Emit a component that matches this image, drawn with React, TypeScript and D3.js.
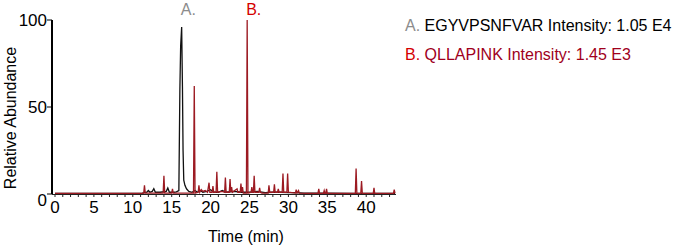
import React from "react";
import * as d3 from "d3";

const W = 696;
const H = 249;

// Trace A (EGYVPSNFVAR) — time (min), relative abundance (%)
const timesA = [0, 10.9, 11.2, 11.8, 12.0, 12.2, 12.5, 12.7, 12.9, 13.5, 14.3, 14.5, 14.7, 15.3, 15.6, 15.92, 16.05, 16.15, 16.28, 16.38, 16.46, 16.55, 16.7, 16.9, 17.2, 17.6, 18.0, 18.3, 18.7, 19.0, 19.5, 20.0, 20.4, 21.0, 21.5, 22.0, 23.0, 24.0, 25.0, 26.0, 27.0, 28.0, 29.0, 30.0, 31.0, 32.0, 35.0, 38.0, 43.7];
const valuesA = [0.3, 0.3, 0.5, 1, 2, 1, 1.5, 3, 1, 1, 1.5, 3.5, 1, 1, 1.2, 2, 60, 85, 96, 62, 25, 8, 5, 3, 1.5, 1, 2, 1, 2, 1, 1.5, 2.5, 1, 1, 2, 1, 1.5, 1, 1, 1.5, 0.8, 1, 1, 0.8, 0.8, 0.5, 0.5, 0.4, 0.3];

// Trace B (QLLAPINK)
const timesB = [0, 11.0, 11.4, 11.5, 11.6, 13.9, 14.0, 14.1, 15.0, 15.1, 15.2, 17.8, 17.9, 18.0, 18.4, 18.5, 18.6, 18.8, 19.0, 19.3, 19.6, 19.8, 19.9, 20.2, 20.3, 20.4, 20.7, 20.8, 20.9, 21.5, 21.8, 21.9, 22.0, 22.4, 22.5, 22.6, 22.7, 22.8, 23.1, 23.4, 23.5, 23.8, 23.9, 24.0, 24.1, 24.2, 24.6, 24.7, 24.8, 25.2, 25.3, 25.4, 25.5, 25.6, 25.7, 26.2, 26.3, 26.4, 26.6, 27.4, 27.5, 27.6, 28.1, 28.2, 28.3, 28.6, 28.7, 28.8, 29.2, 29.3, 29.4, 29.8, 29.9, 30.0, 30.9, 31.0, 31.1, 31.3, 31.4, 33.8, 33.9, 34.0, 34.5, 34.6, 34.7, 34.8, 34.9, 35.0, 38.6, 38.7, 38.8, 39.3, 39.4, 39.5, 40.9, 41.0, 41.1, 43.5, 43.6, 43.7];
const valuesB = [0.3, 0.3, 0.5, 5, 0.5, 0.5, 10.5, 0.5, 0.5, 3, 0.5, 0.5, 62, 0.5, 1, 5, 1, 2.5, 1.5, 2, 1, 6.5, 1, 1, 4.5, 1, 1, 12.8, 1, 1.5, 1, 9.4, 1, 1, 8.6, 1, 4, 1, 2, 3, 1, 1, 6, 1, 4, 0.5, 0.5, 100, 0.5, 1, 4, 1, 1, 10.5, 1, 1, 3.5, 1, 0.5, 0.5, 5, 1, 1, 5.5, 1, 1, 3, 1, 1, 11.8, 1, 1, 11.8, 1, 0.5, 2.5, 0.5, 2, 0.5, 0.3, 3, 0.3, 0.3, 2, 0.3, 0.3, 3, 0.3, 0.3, 14.7, 0.3, 0.3, 7.5, 0.3, 0.3, 3.5, 0.3, 0.3, 2.5, 0.3];

const xMajorTicks = [0, 5, 10, 15, 20, 25, 30, 35, 40];
const xMinorTicks = d3.range(0, 44, 1);
const yTicks = [0, 50, 100];

const peakLabels = [
  { label: "A.", time: 16.3, color: "#8c8c8c" },
  { label: "B.", time: 24.7, color: "#d40000" },
];

const FONT = "'Liberation Sans', Arial, sans-serif";

export default function App() {
  const x = d3.scaleLinear().domain([0, 43.7]).range([55, 395]);
  const y = d3.scaleLinear().domain([0, 100]).range([194, 20]);

  const line = d3
    .line<[number, number]>()
    .x((d) => x(d[0]))
    .y((d) => y(d[1]));

  const dataA: [number, number][] = timesA.map((t, i) => [t, valuesA[i]]);
  const dataB: [number, number][] = timesB.map((t, i) => [t, valuesB[i]]);

  return (
    <svg
      width={W}
      height={H}
      style={{ position: "absolute", left: 0, top: 0, background: "#fff" }}
      fontFamily={FONT}
    >
      <rect x={0} y={0} width={W} height={H} fill="#fff" />
      {/* traces */}
      <path d={line(dataA) || ""} fill="none" stroke="#111" strokeWidth={1.3} />
      <path d={line(dataB) || ""} fill="none" stroke="#9c1a22" strokeWidth={1.3} />

      {/* x axis */}
      <line x1={52} x2={396} y1={y(0) + 0.5} y2={y(0) + 0.5} stroke="#222" strokeWidth={1} />
      {xMinorTicks.map((t) => (
        <line key={"m" + t} x1={x(t)} x2={x(t)} y1={y(0)} y2={y(0) + 3} stroke="#222" strokeWidth={1} />
      ))}
      {xMajorTicks.map((t) => (
        <text key={"x" + t} x={x(t)} y={y(0) + 19} fontSize={17} textAnchor="middle" fill="#000">
          {t}
        </text>
      ))}

      {/* y axis */}
      <line x1={52} x2={52} y1={y(100)} y2={y(0)} stroke="#000" strokeWidth={2} />
      {yTicks.map((v) => (
        <g key={"y" + v}>
          <line x1={47} x2={52} y1={y(v)} y2={y(v)} stroke="#000" strokeWidth={1} />
          <text x={47} y={y(v) + (v === 0 ? 12 : 6)} fontSize={17} textAnchor="end" fill="#000">
            {v}
          </text>
        </g>
      ))}

      {/* axis titles */}
      <text
        transform={`translate(16,${(y(0) + y(100)) / 2 + 11}) rotate(-90)`}
        fontSize={16}
        textAnchor="middle"
        fill="#000"
      >
        Relative Abundance
      </text>
      <text x={246} y={242} fontSize={16} textAnchor="middle" fill="#000">
        Time (min)
      </text>

      {/* peak labels */}
      {peakLabels.map((p) => (
        <text key={p.label} x={x(p.time) - 1} y={15} fontSize={16} textAnchor="start" fill={p.color}>
          {p.label}
        </text>
      ))}

      {/* legend */}
      <text x={405} y={31} fontSize={16}>
        <tspan fill="#8c8c8c">A. </tspan>
        <tspan fill="#000">EGYVPSNFVAR Intensity: 1.05 E4</tspan>
      </text>
      <text x={405} y={60} fontSize={16}>
        <tspan fill="#d40000">B. </tspan>
        <tspan fill="#a0001c">QLLAPINK Intensity: 1.45 E3</tspan>
      </text>
    </svg>
  );
}
